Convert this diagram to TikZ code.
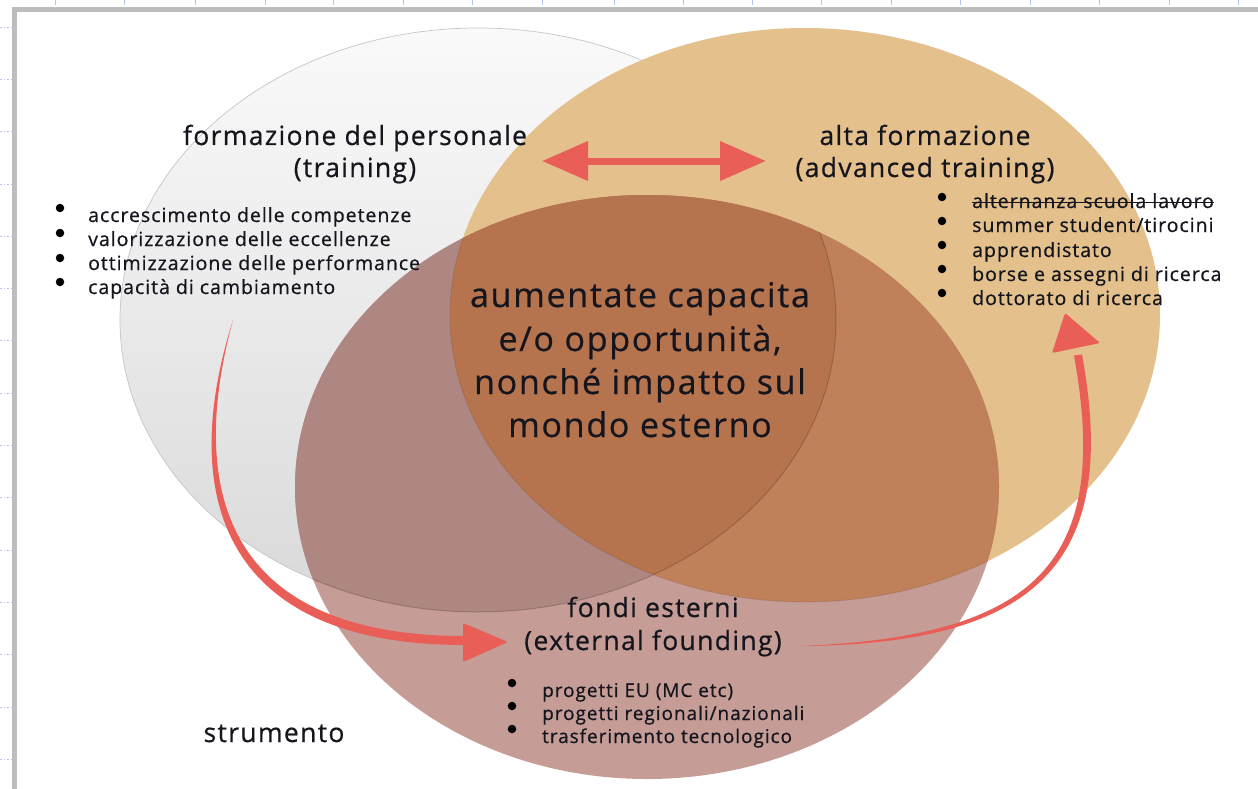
\documentclass[tikz,border=0pt]{standalone}
\usepackage{fontspec}
\setmainfont{Open Sans}[LetterSpace=5, FakeBold=0.6]
\usetikzlibrary{arrows.meta}
\definecolor{txt}{HTML}{15151E}
\definecolor{arrowred}{HTML}{E95E57}
\definecolor{orangec}{HTML}{E3C08C}
\definecolor{brownc}{HTML}{C59C96}
\definecolor{browngray}{HTML}{AE8782}
\definecolor{brownorange}{HTML}{C0805A}
\definecolor{browntriple}{HTML}{B6744E}
\definecolor{framegray}{HTML}{BDBDBD}
\definecolor{tickblue}{HTML}{B4C2F0}
\begin{document}
\begin{tikzpicture}[x=1pt,y=-1pt,
  head/.style={anchor=base, inner sep=0pt, text=txt, font=\fontsize{26.5}{30}\selectfont},
  core/.style={anchor=base, inner sep=0pt, text=txt, font=\fontsize{34}{40}\selectfont},
  item/.style={anchor=base west, inner sep=0pt, text=txt, font=\fontsize{19.5}{22}\selectfont},
  smallitem/.style={item, font=\fontsize{19}{22}\selectfont},
  dot/.style={fill=black, circle, inner sep=0pt, minimum size=8.5pt},
  redfill/.style={fill=arrowred, draw=none}
]
\useasboundingbox (0,0) rectangle (1258,789);
\fill[white] (0,0) rectangle (1258,789);
% ruler marks
\foreach \x in {55,124,195,265,333,403,472,542,614,683,752,821,891,960,1030,1099,1169,1238}
  \draw[tickblue, line width=0.6] (\x,0) -- (\x,5);
\foreach \k in {0,...,14}
  \draw[tickblue, line width=0.8, dash pattern=on 1.5pt off 2pt] (0,27+52.3*\k) -- (11,27+52.3*\k);
% frame
\draw[framegray, line width=5] (14,789) -- (14,10) -- (1258,10);

% circles
\def\grayE{(478,320) ellipse [x radius=358, y radius=292]}
\def\orangeE{(805,315) ellipse [x radius=355, y radius=287]}
\def\brownE{(647,487) ellipse [x radius=352, y radius=292]}
\shade[top color=gray!4, bottom color=gray!30] \grayE;
\draw[gray!45, line width=0.7] \grayE;
\fill[orangec] \orangeE;
\fill[brownc] \brownE;
\begin{scope}
  \clip \grayE;
  \fill[browngray] \brownE;
\end{scope}
\begin{scope}
  \clip \orangeE;
  \fill[brownorange] \brownE;
  \clip \grayE;
  \fill[browntriple] \brownE;
\end{scope}
\begin{scope}
  \clip \brownE;
  \draw[black, opacity=0.18, line width=1] \grayE;
  \draw[black, opacity=0.08, line width=1] \orangeE;
\end{scope}

% headings
\node[head] (h1a) at (355,145) {formazione del personale};
\node[head] (h1b) at (355,177) {(training)};
\node[head] (h2a) at (925,145) {alta formazione};
\node[head] (h2b) at (925,177) {(advanced training)};
\node[head] (h3a) at (653,617) {fondi esterni};
\node[head] (h3b) at (653,650) {(external founding)};

% center
\node[core] (c1) at (640,307) {aumentate capacita};
\node[core] (c2) at (640,351) {e/o opportunità,};
\node[core] (c3) at (640,394) {nonché impatto sul};
\node[core] (c4) at (640,437) {mondo esterno};

% left list
\node[dot] (lb1) at (60,208) {};
\node[dot] (lb2) at (60,233) {};
\node[dot] (lb3) at (60,258) {};
\node[dot] (lb4) at (60,282) {};
\node[item] (lt1) at (88,222) {accrescimento delle competenze};
\node[item] (lt2) at (88,246) {valorizzazione delle eccellenze};
\node[item] (lt3) at (88,270) {ottimizzazione delle performance};
\node[item] (lt4) at (88,294) {capacità di cambiamento};

% right list
\node[dot] (rb1) at (942,197) {};
\node[dot] (rb2) at (942,221) {};
\node[dot] (rb3) at (942,245) {};
\node[dot] (rb4) at (942,269) {};
\node[dot] (rb5) at (942,293) {};
\node[item] (rt1) at (972,208) {alternanza scuola lavoro};
\draw[txt, line width=1.2] ([yshift=5.5pt]rt1.base west) -- ([yshift=5.5pt]rt1.base east);
\node[item] (rt2) at (972,232) {summer student/tirocini};
\node[item] (rt3) at (972,257) {apprendistato};
\node[item] (rt4) at (972,281) {borse e assegni di ricerca};
\node[item] (rt5) at (972,305) {dottorato di ricerca};

% bottom list
\node[dot] (bb1) at (512,683) {};
\node[dot] (bb2) at (512,706) {};
\node[dot] (bb3) at (512,729) {};
\node[smallitem] (bt1) at (542,697) {progetti EU (MC etc)};
\node[smallitem] (bt2) at (542,720) {progetti regionali/nazionali};
\node[smallitem] (bt3) at (542,743) {trasferimento tecnologico};

\node[anchor=base, inner sep=0pt, text=txt, font=\fontsize{26.5}{28}\selectfont] (st) at (274,742) {strumento};

% double arrow
\coordinate (dA) at (542,161);
\coordinate (dB) at (766,161);
\draw[arrowred, line width=7, {Triangle[length=46pt,width=38pt]}-{Triangle[length=46pt,width=38pt]}] (dA) -- (dB);

% left curved arrow
\coordinate (L0) at (233,320);
\coordinate (Ltip) at (508,642);
\fill[redfill] (L0) .. controls (176,500) and (226,644.5) .. (463,645)
   -- (463,636) .. controls (234,635.5) and (184,500) .. (L0) -- cycle;
\fill[redfill, rounded corners=2pt] (Ltip) -- (463,623) -- (463,662) -- cycle;

% right curved arrow
\coordinate (R0) at (800,646);
\coordinate (Rtip) at (1065,313);
\fill[redfill] (R0) .. controls (1041,644.5) and (1119.5,559.5) .. (1082,354.5)
   -- (1074,355.5) .. controls (1111,560.5) and (1039,636.5) .. (R0) -- cycle;
\fill[redfill, rounded corners=2pt] (Rtip) -- (1100,343) -- (1052,353) -- cycle;
\end{tikzpicture}
\end{document}
